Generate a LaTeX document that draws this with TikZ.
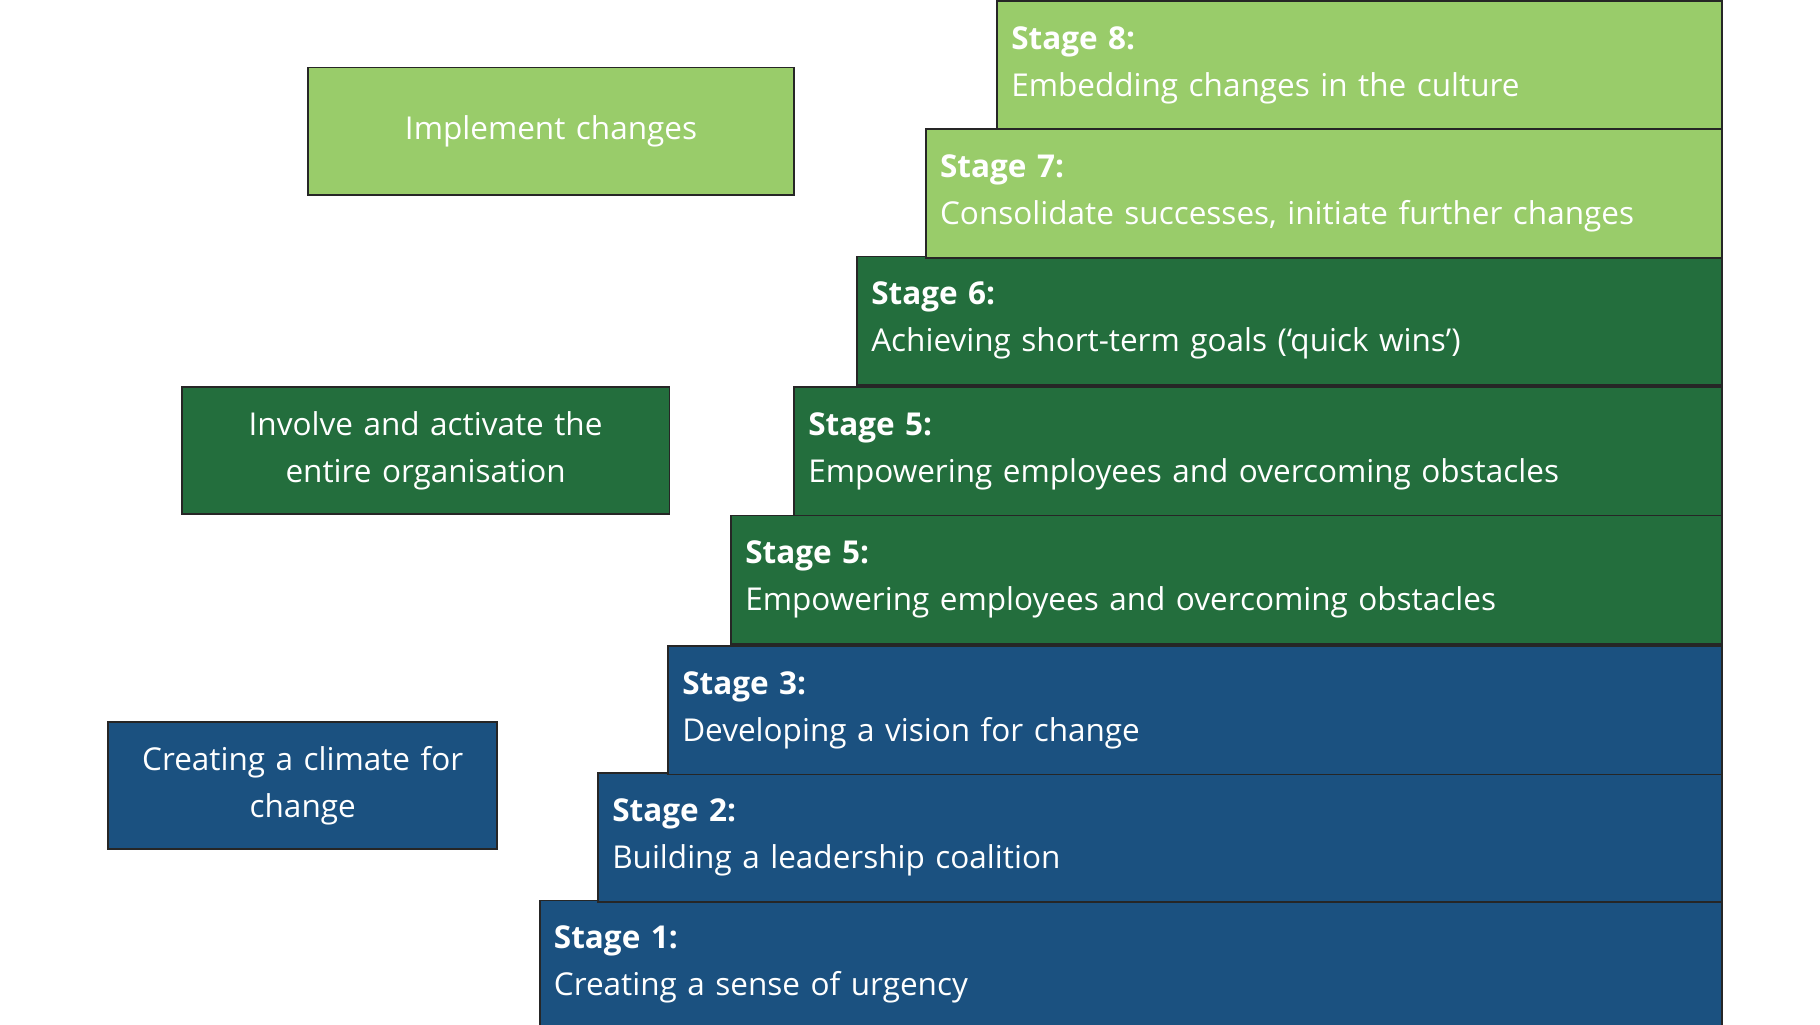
\documentclass[tikz,border=0pt]{standalone}
\usepackage{fontspec}
\setmainfont{Open Sans}
\usetikzlibrary{positioning}
\definecolor{kblue}{HTML}{1B5180}
\definecolor{kgreen}{HTML}{236E3D}
\definecolor{klight}{HTML}{99CC6A}
\tikzset{stagebox/.style={draw=black!85,line width=0.8pt,anchor=north west,minimum height=55pt,
  inner sep=6pt,text=white,align=left,font=\fontsize{13.5}{20}\selectfont},
  groupbox/.style={draw=black!85,line width=0.8pt,anchor=north west,minimum height=54.5pt,
  text=white,align=center,font=\fontsize{13.5}{20}\selectfont}
}
\newcommand{\stage}[6]{\pgfmathsetmacro{\boxw}{(1475-#1)*0.5}\pgfmathsetmacro{\textw}{\boxw-12}%
  \node[stagebox,fill=#3,minimum width=\boxw pt,text width=\textw pt] (#6) at (#1,#2) {\textbf{#4}\\#5};}
\begin{document}
\begin{tikzpicture}[x=0.5pt,y=-0.5pt]
\useasboundingbox (0,0) rectangle (1560,878);
\stage{462}{771}{kblue}{Stage 1:}{Creating a sense of urgency}{s1}
\stage{512}{662}{kblue}{Stage 2:}{Building a leadership coalition}{s2}
\stage{572}{553}{kblue}{Stage 3:}{Developing a vision for change}{s3}
\stage{626}{441}{kgreen}{Stage 5:}{Empowering employees and overcoming obstacles}{s4}
\stage{680}{331}{kgreen}{Stage 5:}{Empowering employees and overcoming obstacles}{s5}
\stage{734}{219}{kgreen}{Stage 6:}{Achieving short-term goals (‘quick wins’)}{s6}
\stage{793}{110}{klight}{Stage 7:}{Consolidate successes, initiate further changes}{s7}
\stage{854}{0}{klight}{Stage 8:}{Embedding changes in the culture}{s8}
% phases
\node[groupbox,fill=klight,minimum width=208.5pt,text width=190pt] (implement) at (263,57) {Implement changes};
\node[groupbox,fill=kgreen,minimum width=209pt,text width=190pt] (involve) at (155,331) {Involve and activate the\\entire organisation};
\node[groupbox,fill=kblue,minimum width=166.5pt,text width=160pt] (climate) at (92,618) {Creating a climate for\\change};
\end{tikzpicture}
\end{document}
